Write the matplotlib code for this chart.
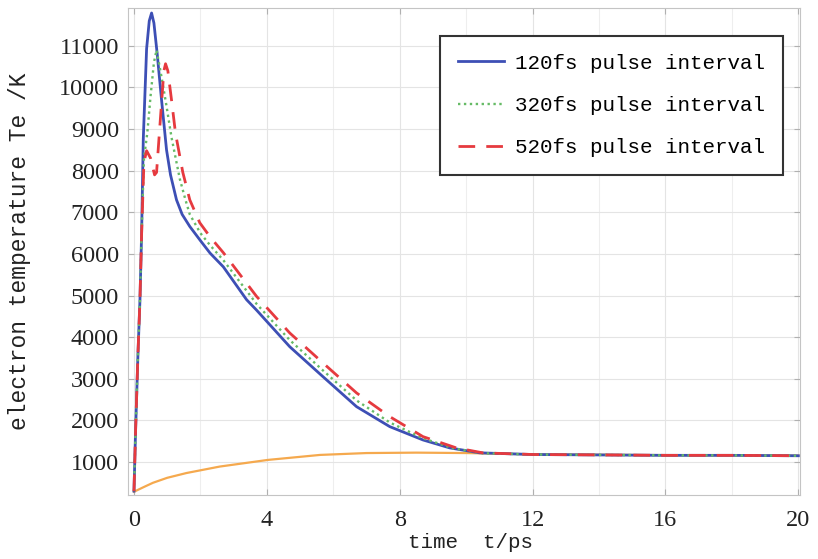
import numpy as np
import matplotlib.pyplot as plt
from matplotlib.ticker import MultipleLocator

# time axis (ps) and electron / lattice temperatures (K)
t_120 = [0, 0.05, 0.12, 0.18, 0.23, 0.28, 0.38, 0.46, 0.53, 0.6, 0.7, 0.83, 0.98, 1.1, 1.28,
         1.45, 1.68, 2.0, 2.29, 2.69, 3.39, 3.69, 4.69, 5.69, 6.7, 7.7, 8.7, 9.5, 10.4,
         12, 14, 16, 18, 20]
T_120 = [300, 1800, 3600, 4900, 6500, 8760, 10930, 11600, 11790, 11550, 10800, 9700, 8500, 7900, 7300,
         6950, 6660, 6320, 6020, 5690, 4900, 4650, 3770, 3050, 2330, 1850, 1530, 1340, 1220,
         1180, 1170, 1160, 1160, 1150]

t_320 = [0, 0.05, 0.12, 0.18, 0.23, 0.3, 0.4, 0.5, 0.6, 0.68, 0.83, 0.98, 1.13, 1.38, 1.55,
         1.68, 2.0, 2.3, 2.69, 3.69, 4.69, 5.69, 6.7, 7.7, 8.7, 9.6, 10.5, 12, 14, 16, 18, 20]
T_320 = [300, 1800, 3600, 4900, 6500, 8300, 8900, 9800, 10600, 10900, 10250, 9550, 8800, 7800, 7300,
         6950, 6500, 6200, 5850, 4800, 3930, 3200, 2480, 1950, 1570, 1330, 1210, 1180, 1170, 1160, 1160, 1150]

t_520 = [0, 0.05, 0.12, 0.18, 0.23, 0.3, 0.38, 0.5, 0.62, 0.68, 0.8, 0.9, 0.95, 1.02, 1.13, 1.25,
         1.47, 1.68, 1.98, 2.3, 2.69, 3.69, 4.69, 5.69, 6.7, 7.7, 8.7, 9.7, 10.5, 12, 14, 16, 18, 20]
T_520 = [300, 1800, 3600, 4900, 6500, 8200, 8480, 8300, 7900, 7960, 9300, 10400, 10570, 10400, 9700, 8900,
         7960, 7300, 6750, 6400, 6030, 4980, 4100, 3380, 2660, 2090, 1610, 1340, 1220, 1180, 1170, 1160, 1160, 1150]

t_lat = [0, 0.3, 0.57, 1.0, 1.58, 2.58, 4.03, 5.6, 7.0, 8.5, 10.0, 12, 14, 16, 18, 20]
T_lat = [285, 400, 500, 620, 735, 890, 1050, 1170, 1215, 1225, 1215, 1185, 1175, 1165, 1160, 1155]

labels = ["120fs pulse interval", "320fs pulse interval", "520fs pulse interval"]

fig = plt.figure(figsize=(8.18, 5.59), dpi=100)
ax = fig.add_axes([128 / 818, 1 - 495 / 559, 672 / 818, 487 / 559])

ax.plot(t_lat, T_lat, color='#f5a94e', lw=1.6)
ax.plot(t_120, T_120, color='#3d4fb5', lw=2.0, label=labels[0])
ax.plot(t_320, T_320, color='#66bb66', lw=1.7, ls=(0, (1, 1.5)), label=labels[1])
ax.plot(t_520, T_520, color='#e63a3f', lw=2.0, ls=(0, (6, 4)), label=labels[2])

ax.set_xlim(-0.18, 20.05)
ax.set_ylim(207, 11910)
ax.xaxis.set_major_locator(MultipleLocator(4))
ax.xaxis.set_minor_locator(MultipleLocator(2))
ax.set_yticks(range(1000, 12000, 1000))

ax.grid(True, which='major', color='#e4e4e4', lw=0.8)
ax.grid(True, which='minor', axis='x', color='#eeeeee', lw=0.8)
ax.tick_params(direction='in', length=4, color='#b0b0b0', top=True, right=True,
               labelsize=17.5, labelcolor='#222222')
ax.tick_params(axis='x', pad=10.5)
ax.tick_params(axis='y', pad=6.5)
ax.tick_params(which='minor', length=0)
for lab in ax.get_xticklabels() + ax.get_yticklabels():
    lab.set_fontfamily('Liberation Serif')
for s in ax.spines.values():
    s.set_color('#c4c4c4')

ax.set_xlabel("time  t/ps", fontfamily='Liberation Mono', fontsize=15, color='#222222')
ax.xaxis.set_label_coords(0.509, -0.078)
ax.set_ylabel("electron temperature Te /K", fontfamily='Liberation Mono', fontsize=16.5,
              color='#222222')
ax.yaxis.set_label_coords(-0.144, 0.5)

leg = ax.legend(loc='upper right', bbox_to_anchor=(0.975, 0.9425), borderaxespad=0,
                prop={'family': 'Liberation Mono', 'size': 15}, fancybox=False,
                handlelength=2.25, labelspacing=1.12, borderpad=0.85, handletextpad=0.53)
leg.get_frame().set_edgecolor('#333333')
leg.get_frame().set_linewidth(1.5)
leg.get_frame().set_alpha(1)

fig.savefig("out.png", dpi=100)
